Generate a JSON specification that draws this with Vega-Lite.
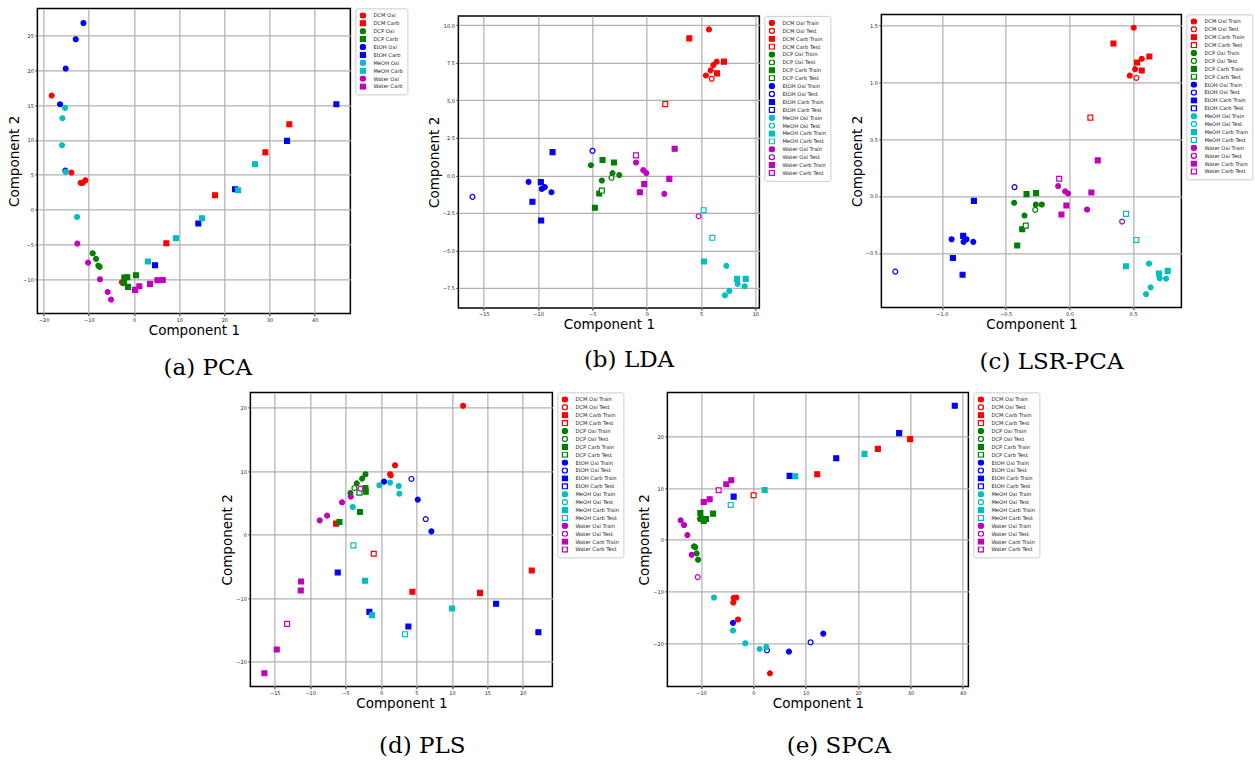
{
  "$schema": "https://vega.github.io/schema/vega-lite/v6.json",
  "background": "white",
  "padding": {"left": 7, "top": 7, "right": 0, "bottom": 0},
  "config": {
    "view": {"stroke": "black", "strokeWidth": 1.5},
    "axis": {"grid": true, "gridColor": "#b0b0b0", "gridWidth": 1.2, "domain": false, "ticks": true, "tickColor": "black", "tickSize": 2.5, "tickWidth": 0.8, "labelFont": "DejaVu Sans", "labelFontSize": 5, "labelColor": "#222222", "labelPadding": 1.5, "labelFlush": false, "labelOverlap": false, "titleFont": "DejaVu Sans", "titleFontSize": 13.5, "titleFontWeight": "normal", "titleColor": "black", "titlePadding": 1},
    "legend": {"labelFont": "DejaVu Sans", "labelFontSize": 5.2, "labelColor": "#222222", "symbolSize": 26, "symbolStrokeWidth": 1.3, "rowPadding": 0.9, "clipHeight": 6, "padding": 4, "strokeColor": "#cccccc", "cornerRadius": 2, "fillColor": "white", "offset": 5, "labelOffset": 7},
    "title": {"font": "DejaVu Serif", "fontSize": 23, "fontWeight": "normal", "color": "black", "orient": "bottom", "anchor": "middle", "frame": "bounds"}
  },
  "datasets": {
    "pca": [
      {"g":"DCM Oxi","x":-18.23,"y":16.38},{"g":"DCM Oxi","x":-13.87,"y":5.32},{"g":"DCM Oxi","x":-11.81,"y":3.84},{"g":"DCM Oxi","x":-11.37,"y":3.84},{"g":"DCM Oxi","x":-10.77,"y":4.22},{"g":"DCM Oxi","x":-2.66,"y":-10.43},
      {"g":"DCM Carb","x":7.16,"y":-4.83},{"g":"DCM Carb","x":17.93,"y":2.07},{"g":"DCM Carb","x":29.08,"y":8.24},{"g":"DCM Carb","x":34.39,"y":12.26},
      {"g":"DCP Oxi","x":-9.15,"y":-6.27},{"g":"DCP Oxi","x":-8.41,"y":-7.08},{"g":"DCP Oxi","x":-7.9,"y":-8.04},{"g":"DCP Oxi","x":-7.6,"y":-8.23},
      {"g":"DCP Carb","x":-2.14,"y":-9.76},{"g":"DCP Carb","x":-1.48,"y":-9.71},{"g":"DCP Carb","x":0.44,"y":-9.42},{"g":"DCP Carb","x":-2.21,"y":-10.53},{"g":"DCP Carb","x":-1.33,"y":-11.1},
      {"g":"EtOH Oxi","x":-11.2,"y":26.8},{"g":"EtOH Oxi","x":-12.9,"y":24.47},{"g":"EtOH Oxi","x":-15.13,"y":20.26},{"g":"EtOH Oxi","x":-16.38,"y":15.14},{"g":"EtOH Oxi","x":-15.2,"y":5.61},
      {"g":"EtOH Carb","x":4.65,"y":-7.99},{"g":"EtOH Carb","x":14.24,"y":-2.0},{"g":"EtOH Carb","x":22.36,"y":2.93},{"g":"EtOH Carb","x":33.87,"y":9.87},{"g":"EtOH Carb","x":44.8,"y":15.14},
      {"g":"MeOH Oxi","x":-15.28,"y":14.61},{"g":"MeOH Oxi","x":-15.87,"y":13.13},{"g":"MeOH Oxi","x":-15.94,"y":9.25},{"g":"MeOH Oxi","x":-15.13,"y":5.42},{"g":"MeOH Oxi","x":-12.62,"y":-1.05},
      {"g":"MeOH Carb","x":3.1,"y":-7.46},{"g":"MeOH Carb","x":9.3,"y":-4.11},{"g":"MeOH Carb","x":15.06,"y":-1.24},{"g":"MeOH Carb","x":23.03,"y":2.78},{"g":"MeOH Carb","x":26.79,"y":6.52},
      {"g":"Water Oxi","x":-12.55,"y":-4.88},{"g":"Water Oxi","x":-10.18,"y":-7.61},{"g":"Water Oxi","x":-7.53,"y":-10.0},{"g":"Water Oxi","x":-5.83,"y":-11.82},{"g":"Water Oxi","x":-5.09,"y":-12.92},
      {"g":"Water Carb","x":0.22,"y":-11.53},{"g":"Water Carb","x":1.18,"y":-11.0},{"g":"Water Carb","x":3.54,"y":-10.67},{"g":"Water Carb","x":5.17,"y":-10.14},{"g":"Water Carb","x":6.35,"y":-10.1}
    ],
    "lda": [
      {"g":"DCM Oxi Train","x":5.73,"y":9.73},{"g":"DCM Oxi Train","x":5.45,"y":6.66},{"g":"DCM Oxi Train","x":5.88,"y":7.0},{"g":"DCM Oxi Train","x":6.13,"y":7.35},{"g":"DCM Oxi Train","x":6.44,"y":7.58},
      {"g":"DCM Oxi Test","x":5.98,"y":6.44},
      {"g":"DCM Carb Train","x":3.92,"y":9.13},{"g":"DCM Carb Train","x":6.47,"y":6.8},{"g":"DCM Carb Train","x":7.11,"y":7.58},
      {"g":"DCM Carb Test","x":1.71,"y":4.75},
      {"g":"DCP Oxi Train","x":-5.14,"y":0.68},{"g":"DCP Oxi Train","x":-4.13,"y":-0.34},{"g":"DCP Oxi Train","x":-3.15,"y":0.15},{"g":"DCP Oxi Train","x":-2.53,"y":0.02},
      {"g":"DCP Oxi Test","x":-3.24,"y":-0.16},
      {"g":"DCP Carb Train","x":-4.07,"y":1.02},{"g":"DCP Carb Train","x":-3.02,"y":0.86},{"g":"DCP Carb Train","x":-4.37,"y":-1.21},{"g":"DCP Carb Train","x":-4.77,"y":-2.16},
      {"g":"DCP Carb Test","x":-4.13,"y":-1.01},
      {"g":"EtOH Oxi Train","x":-10.88,"y":-0.43},{"g":"EtOH Oxi Train","x":-9.66,"y":-0.9},{"g":"EtOH Oxi Train","x":-9.38,"y":-0.78},{"g":"EtOH Oxi Train","x":-8.77,"y":-1.12},
      {"g":"EtOH Oxi Test","x":-16.04,"y":-1.43},{"g":"EtOH Oxi Test","x":-4.99,"y":1.64},
      {"g":"EtOH Carb Train","x":-8.67,"y":1.55},{"g":"EtOH Carb Train","x":-9.75,"y":-0.45},{"g":"EtOH Carb Train","x":-10.52,"y":-1.76},{"g":"EtOH Carb Train","x":-9.72,"y":-3.01},
      {"g":"MeOH Oxi Train","x":7.33,"y":-6.03},{"g":"MeOH Oxi Train","x":8.37,"y":-7.23},{"g":"MeOH Oxi Train","x":7.6,"y":-7.7},{"g":"MeOH Oxi Train","x":7.2,"y":-7.99},{"g":"MeOH Oxi Train","x":9.02,"y":-7.39},
      {"g":"MeOH Carb Train","x":5.27,"y":-5.74},{"g":"MeOH Carb Train","x":8.31,"y":-6.9},{"g":"MeOH Carb Train","x":9.11,"y":-6.9},
      {"g":"MeOH Carb Test","x":5.24,"y":-2.32},{"g":"MeOH Carb Test","x":6.04,"y":-4.16},
      {"g":"Water Oxi Train","x":-0.99,"y":0.86},{"g":"Water Oxi Train","x":-0.32,"y":0.35},{"g":"Water Oxi Train","x":-0.04,"y":0.15},{"g":"Water Oxi Train","x":1.62,"y":-1.23},
      {"g":"Water Oxi Test","x":4.78,"y":-2.72},
      {"g":"Water Carb Train","x":2.57,"y":1.77},{"g":"Water Carb Train","x":2.08,"y":-0.23},{"g":"Water Carb Train","x":-0.23,"y":-0.58},{"g":"Water Carb Train","x":-0.63,"y":-1.12},
      {"g":"Water Carb Test","x":-0.99,"y":1.33}
    ],
    "lsr": [
      {"g":"DCM Oxi Train","x":0.505,"y":1.477},{"g":"DCM Oxi Train","x":0.474,"y":1.057},{"g":"DCM Oxi Train","x":0.516,"y":1.113},{"g":"DCM Oxi Train","x":0.568,"y":1.204},
      {"g":"DCM Oxi Test","x":0.526,"y":1.037},
      {"g":"DCM Carb Train","x":0.346,"y":1.339},{"g":"DCM Carb Train","x":0.531,"y":1.172},{"g":"DCM Carb Train","x":0.568,"y":1.101},{"g":"DCM Carb Train","x":0.628,"y":1.224},
      {"g":"DCM Carb Test","x":0.165,"y":0.688},
      {"g":"DCP Oxi Train","x":-0.433,"y":-0.06},{"g":"DCP Oxi Train","x":-0.352,"y":-0.172},{"g":"DCP Oxi Train","x":-0.263,"y":-0.075},{"g":"DCP Oxi Train","x":-0.216,"y":-0.075},
      {"g":"DCP Oxi Test","x":-0.268,"y":-0.122},
      {"g":"DCP Carb Train","x":-0.336,"y":0.016},{"g":"DCP Carb Train","x":-0.261,"y":0.025},{"g":"DCP Carb Train","x":-0.37,"y":-0.292},{"g":"DCP Carb Train","x":-0.409,"y":-0.435},
      {"g":"DCP Carb Test","x":-0.342,"y":-0.26},
      {"g":"EtOH Oxi Train","x":-0.924,"y":-0.38},{"g":"EtOH Oxi Train","x":-0.83,"y":-0.403},{"g":"EtOH Oxi Train","x":-0.807,"y":-0.38},{"g":"EtOH Oxi Train","x":-0.754,"y":-0.403},
      {"g":"EtOH Oxi Test","x":-1.366,"y":-0.664},{"g":"EtOH Oxi Test","x":-0.43,"y":0.078},
      {"g":"EtOH Carb Train","x":-0.749,"y":-0.043},{"g":"EtOH Carb Train","x":-0.833,"y":-0.35},{"g":"EtOH Carb Train","x":-0.914,"y":-0.544},{"g":"EtOH Carb Train","x":-0.838,"y":-0.691},
      {"g":"MeOH Oxi Train","x":0.625,"y":-0.594},{"g":"MeOH Oxi Train","x":0.709,"y":-0.723},{"g":"MeOH Oxi Train","x":0.638,"y":-0.802},{"g":"MeOH Oxi Train","x":0.602,"y":-0.861},{"g":"MeOH Oxi Train","x":0.759,"y":-0.726},
      {"g":"MeOH Carb Train","x":0.445,"y":-0.617},{"g":"MeOH Carb Train","x":0.704,"y":-0.682},{"g":"MeOH Carb Train","x":0.772,"y":-0.658},
      {"g":"MeOH Carb Test","x":0.445,"y":-0.157},{"g":"MeOH Carb Test","x":0.526,"y":-0.386},
      {"g":"Water Oxi Train","x":-0.088,"y":0.087},{"g":"Water Oxi Train","x":-0.033,"y":0.04},{"g":"Water Oxi Train","x":-0.01,"y":0.022},{"g":"Water Oxi Train","x":0.139,"y":-0.119},
      {"g":"Water Oxi Test","x":0.414,"y":-0.224},
      {"g":"Water Carb Train","x":0.223,"y":0.312},{"g":"Water Carb Train","x":0.173,"y":0.031},{"g":"Water Carb Train","x":-0.023,"y":-0.084},{"g":"Water Carb Train","x":-0.062,"y":-0.163},
      {"g":"Water Carb Test","x":-0.08,"y":0.151}
    ],
    "pls": [
      {"g":"DCM Oxi Train","x":11.58,"y":20.32},{"g":"DCM Oxi Train","x":1.98,"y":10.95},{"g":"DCM Oxi Train","x":1.28,"y":9.53},{"g":"DCM Oxi Train","x":1.37,"y":9.37},
      {"g":"DCM Carb Train","x":-6.34,"y":1.74},{"g":"DCM Carb Train","x":4.43,"y":-9.0},{"g":"DCM Carb Train","x":13.98,"y":-9.16},{"g":"DCM Carb Train","x":21.27,"y":-5.63},
      {"g":"DCM Carb Test","x":-1.03,"y":-3.0},
      {"g":"DCP Oxi Train","x":-4.32,"y":6.58},{"g":"DCP Oxi Train","x":-3.43,"y":8.1},{"g":"DCP Oxi Train","x":-2.67,"y":8.84},{"g":"DCP Oxi Train","x":-2.2,"y":9.53},
      {"g":"DCP Oxi Test","x":-3.76,"y":7.37},
      {"g":"DCP Carb Train","x":-5.87,"y":2.0},{"g":"DCP Carb Train","x":-2.96,"y":3.58},{"g":"DCP Carb Train","x":-2.2,"y":7.37},{"g":"DCP Carb Train","x":-2.16,"y":6.79},
      {"g":"DCP Carb Test","x":-3.05,"y":6.63},
      {"g":"EtOH Oxi Train","x":0.43,"y":8.37},{"g":"EtOH Oxi Train","x":5.18,"y":5.53},{"g":"EtOH Oxi Train","x":7.11,"y":0.53},
      {"g":"EtOH Oxi Test","x":4.29,"y":8.79},{"g":"EtOH Oxi Test","x":6.31,"y":2.47},
      {"g":"EtOH Carb Train","x":-6.11,"y":-5.95},{"g":"EtOH Carb Train","x":-1.64,"y":-12.16},{"g":"EtOH Carb Train","x":3.86,"y":-14.47},{"g":"EtOH Carb Train","x":16.24,"y":-10.89},{"g":"EtOH Carb Train","x":22.21,"y":-15.37},
      {"g":"MeOH Oxi Train","x":-3.99,"y":4.37},{"g":"MeOH Oxi Train","x":-0.23,"y":7.79},{"g":"MeOH Oxi Train","x":1.28,"y":8.21},{"g":"MeOH Oxi Train","x":2.5,"y":7.68},{"g":"MeOH Oxi Train","x":2.59,"y":6.47},
      {"g":"MeOH Carb Train","x":-2.25,"y":-7.26},{"g":"MeOH Carb Train","x":-1.26,"y":-12.68},{"g":"MeOH Carb Train","x":10.03,"y":-11.63},
      {"g":"MeOH Carb Test","x":-3.9,"y":-1.68},{"g":"MeOH Carb Test","x":3.39,"y":-15.68},
      {"g":"Water Oxi Train","x":-8.65,"y":2.26},{"g":"Water Oxi Train","x":-7.61,"y":3.0},{"g":"Water Oxi Train","x":-5.5,"y":5.11},{"g":"Water Oxi Train","x":-4.27,"y":6.0},
      {"g":"Water Oxi Test","x":-2.91,"y":7.26},
      {"g":"Water Carb Train","x":-11.28,"y":-7.37},{"g":"Water Carb Train","x":-11.33,"y":-8.79},{"g":"Water Carb Train","x":-14.72,"y":-18.1},{"g":"Water Carb Train","x":-16.46,"y":-21.84},
      {"g":"Water Carb Test","x":-13.26,"y":-14.05}
    ],
    "spca": [
      {"g":"DCM Oxi Train","x":-10.19,"y":4.03},{"g":"DCM Oxi Train","x":-3.77,"y":-11.18},{"g":"DCM Oxi Train","x":-3.26,"y":-11.11},{"g":"DCM Oxi Train","x":-3.83,"y":-12.08},{"g":"DCM Oxi Train","x":-2.94,"y":-15.36},{"g":"DCM Oxi Train","x":3.17,"y":-25.73},
      {"g":"DCM Carb Train","x":12.2,"y":12.66},{"g":"DCM Carb Train","x":23.78,"y":17.55},{"g":"DCM Carb Train","x":29.95,"y":19.42},
      {"g":"DCM Carb Test","x":0.05,"y":8.6},
      {"g":"DCP Oxi Train","x":-11.34,"y":-1.26},{"g":"DCP Oxi Train","x":-11.1,"y":-1.4},{"g":"DCP Oxi Train","x":-10.83,"y":-2.61},{"g":"DCP Oxi Train","x":-10.57,"y":-3.83},
      {"g":"DCP Carb Train","x":-10.13,"y":5.19},{"g":"DCP Carb Train","x":-10.0,"y":4.09},{"g":"DCP Carb Train","x":-9.05,"y":4.03},{"g":"DCP Carb Train","x":-7.71,"y":5.06},{"g":"DCP Carb Train","x":-9.49,"y":3.64},
      {"g":"EtOH Oxi Train","x":-3.89,"y":-16.0},{"g":"EtOH Oxi Train","x":6.79,"y":-21.55},{"g":"EtOH Oxi Train","x":13.35,"y":-18.07},
      {"g":"EtOH Oxi Test","x":2.6,"y":-21.29},{"g":"EtOH Oxi Test","x":10.93,"y":-19.74},
      {"g":"EtOH Carb Train","x":-3.77,"y":8.34},{"g":"EtOH Carb Train","x":6.92,"y":12.33},{"g":"EtOH Carb Train","x":15.83,"y":15.75},{"g":"EtOH Carb Train","x":27.85,"y":20.58},{"g":"EtOH Carb Train","x":38.47,"y":25.86},
      {"g":"MeOH Oxi Train","x":-7.52,"y":-11.11},{"g":"MeOH Oxi Train","x":-3.89,"y":-17.49},{"g":"MeOH Oxi Train","x":-1.54,"y":-19.94},{"g":"MeOH Oxi Train","x":1.2,"y":-21.03},{"g":"MeOH Oxi Train","x":2.47,"y":-20.64},
      {"g":"MeOH Carb Train","x":8.0,"y":12.27},{"g":"MeOH Carb Train","x":21.23,"y":16.59},{"g":"MeOH Carb Train","x":2.15,"y":9.63},
      {"g":"MeOH Carb Test","x":-4.34,"y":6.73},
      {"g":"Water Oxi Train","x":-13.88,"y":3.77},{"g":"Water Oxi Train","x":-13.24,"y":2.87},{"g":"Water Oxi Train","x":-12.61,"y":0.93},{"g":"Water Oxi Train","x":-11.78,"y":-2.87},
      {"g":"Water Oxi Test","x":-10.64,"y":-7.18},
      {"g":"Water Carb Train","x":-9.49,"y":7.31},{"g":"Water Carb Train","x":-8.35,"y":7.83},{"g":"Water Carb Train","x":-5.17,"y":10.72},{"g":"Water Carb Train","x":-4.21,"y":11.5},
      {"g":"Water Carb Test","x":-6.63,"y":9.57}
    ]
  },
  "center": true,
  "spacing": 10,
  "resolve": {"scale": {"fill": "independent", "stroke": "independent", "shape": "independent"}},
  "vconcat": [
    {
      "center": true,
      "spacing": 17,
      "resolve": {"scale": {"fill": "independent", "stroke": "independent", "shape": "independent"}},
      "hconcat": [
        {
          "width": 313, "height": 305,
          "data": {"name": "pca"},
          "title": {"text": "(a) PCA", "offset": 20},
          "mark": {"type": "point", "filled": true, "size": 24, "strokeWidth": 1.2, "opacity": 1},
          "encoding": {
            "x": {"field": "x", "type": "quantitative", "scale": {"domain": [-21.4, 47.9], "nice": false, "zero": false}, "axis": {"values": [-20, -10, 0, 10, 20, 30, 40], "title": "Component 1"}},
            "y": {"field": "y", "type": "quantitative", "scale": {"domain": [-14.9, 28.9], "nice": false, "zero": false}, "axis": {"values": [-10, -5, 0, 5, 10, 15, 20, 25], "title": "Component 2"}},
            "fill": {"field": "g", "type": "nominal", "scale": {"domain": ["DCM Oxi","DCM Carb","DCP Oxi","DCP Carb","EtOH Oxi","EtOH Carb","MeOH Oxi","MeOH Carb","Water Oxi","Water Carb"], "range": ["#ff0000","#ff0000","#008000","#008000","#0000ff","#0000ff","#00bfbf","#00bfbf","#bf00bf","#bf00bf"]}, "legend": {"title": null}},
            "stroke": {"field": "g", "type": "nominal", "scale": {"domain": ["DCM Oxi","DCM Carb","DCP Oxi","DCP Carb","EtOH Oxi","EtOH Carb","MeOH Oxi","MeOH Carb","Water Oxi","Water Carb"], "range": ["#ff0000","#ff0000","#008000","#008000","#0000ff","#0000ff","#00bfbf","#00bfbf","#bf00bf","#bf00bf"]}, "legend": {"title": null}},
            "shape": {"field": "g", "type": "nominal", "scale": {"domain": ["DCM Oxi","DCM Carb","DCP Oxi","DCP Carb","EtOH Oxi","EtOH Carb","MeOH Oxi","MeOH Carb","Water Oxi","Water Carb"], "range": ["circle","square","circle","square","circle","square","circle","square","circle","square"]}, "legend": {"title": null}}
          }
        },
        {
          "width": 301, "height": 292,
          "data": {"name": "lda"},
          "title": {"text": "(b) LDA", "offset": 18},
          "mark": {"type": "point", "filled": true, "size": 24, "strokeWidth": 1.2, "opacity": 1},
          "encoding": {
            "x": {"field": "x", "type": "quantitative", "scale": {"domain": [-17.34, 10.37], "nice": false, "zero": false}, "axis": {"values": [-15, -10, -5, 0, 5, 10], "title": "Component 1"}},
            "y": {"field": "y", "type": "quantitative", "scale": {"domain": [-8.83, 10.63], "nice": false, "zero": false}, "axis": {"values": [-7.5, -5, -2.5, 0, 2.5, 5, 7.5, 10], "format": ".1f", "title": "Component 2"}},
            "fill": {"field": "g", "type": "nominal", "scale": {"domain": ["DCM Oxi Train","DCM Oxi Test","DCM Carb Train","DCM Carb Test","DCP Oxi Train","DCP Oxi Test","DCP Carb Train","DCP Carb Test","EtOH Oxi Train","EtOH Oxi Test","EtOH Carb Train","EtOH Carb Test","MeOH Oxi Train","MeOH Oxi Test","MeOH Carb Train","MeOH Carb Test","Water Oxi Train","Water Oxi Test","Water Carb Train","Water Carb Test"], "range": ["#ff0000","white","#ff0000","white","#008000","white","#008000","white","#0000ff","white","#0000ff","white","#00bfbf","white","#00bfbf","white","#bf00bf","white","#bf00bf","white"]}, "legend": {"title": null}},
            "stroke": {"field": "g", "type": "nominal", "scale": {"domain": ["DCM Oxi Train","DCM Oxi Test","DCM Carb Train","DCM Carb Test","DCP Oxi Train","DCP Oxi Test","DCP Carb Train","DCP Carb Test","EtOH Oxi Train","EtOH Oxi Test","EtOH Carb Train","EtOH Carb Test","MeOH Oxi Train","MeOH Oxi Test","MeOH Carb Train","MeOH Carb Test","Water Oxi Train","Water Oxi Test","Water Carb Train","Water Carb Test"], "range": ["#ff0000","#ff0000","#ff0000","#ff0000","#008000","#008000","#008000","#008000","#0000ff","#0000ff","#0000ff","#0000ff","#00bfbf","#00bfbf","#00bfbf","#00bfbf","#bf00bf","#bf00bf","#bf00bf","#bf00bf"]}, "legend": {"title": null}},
            "shape": {"field": "g", "type": "nominal", "scale": {"domain": ["DCM Oxi Train","DCM Oxi Test","DCM Carb Train","DCM Carb Test","DCP Oxi Train","DCP Oxi Test","DCP Carb Train","DCP Carb Test","EtOH Oxi Train","EtOH Oxi Test","EtOH Carb Train","EtOH Carb Test","MeOH Oxi Train","MeOH Oxi Test","MeOH Carb Train","MeOH Carb Test","Water Oxi Train","Water Oxi Test","Water Carb Train","Water Carb Test"], "range": ["circle","circle","square","square","circle","circle","square","square","circle","circle","square","square","circle","circle","square","square","circle","circle","square","square"]}, "legend": {"title": null}}
          }
        },
        {
          "width": 300, "height": 293,
          "data": {"name": "lsr"},
          "title": {"text": "(c) LSR-PCA", "offset": 20},
          "mark": {"type": "point", "filled": true, "size": 24, "strokeWidth": 1.2, "opacity": 1},
          "encoding": {
            "x": {"field": "x", "type": "quantitative", "scale": {"domain": [-1.475, 0.879], "nice": false, "zero": false}, "axis": {"values": [-1, -0.5, 0, 0.5], "format": ".1f", "title": "Component 1"}},
            "y": {"field": "y", "type": "quantitative", "scale": {"domain": [-0.978, 1.594], "nice": false, "zero": false}, "axis": {"values": [-0.5, 0, 0.5, 1, 1.5], "format": ".1f", "title": "Component 2"}},
            "fill": {"field": "g", "type": "nominal", "scale": {"domain": ["DCM Oxi Train","DCM Oxi Test","DCM Carb Train","DCM Carb Test","DCP Oxi Train","DCP Oxi Test","DCP Carb Train","DCP Carb Test","EtOH Oxi Train","EtOH Oxi Test","EtOH Carb Train","EtOH Carb Test","MeOH Oxi Train","MeOH Oxi Test","MeOH Carb Train","MeOH Carb Test","Water Oxi Train","Water Oxi Test","Water Carb Train","Water Carb Test"], "range": ["#ff0000","white","#ff0000","white","#008000","white","#008000","white","#0000ff","white","#0000ff","white","#00bfbf","white","#00bfbf","white","#bf00bf","white","#bf00bf","white"]}, "legend": {"title": null}},
            "stroke": {"field": "g", "type": "nominal", "scale": {"domain": ["DCM Oxi Train","DCM Oxi Test","DCM Carb Train","DCM Carb Test","DCP Oxi Train","DCP Oxi Test","DCP Carb Train","DCP Carb Test","EtOH Oxi Train","EtOH Oxi Test","EtOH Carb Train","EtOH Carb Test","MeOH Oxi Train","MeOH Oxi Test","MeOH Carb Train","MeOH Carb Test","Water Oxi Train","Water Oxi Test","Water Carb Train","Water Carb Test"], "range": ["#ff0000","#ff0000","#ff0000","#ff0000","#008000","#008000","#008000","#008000","#0000ff","#0000ff","#0000ff","#0000ff","#00bfbf","#00bfbf","#00bfbf","#00bfbf","#bf00bf","#bf00bf","#bf00bf","#bf00bf"]}, "legend": {"title": null}},
            "shape": {"field": "g", "type": "nominal", "scale": {"domain": ["DCM Oxi Train","DCM Oxi Test","DCM Carb Train","DCM Carb Test","DCP Oxi Train","DCP Oxi Test","DCP Carb Train","DCP Carb Test","EtOH Oxi Train","EtOH Oxi Test","EtOH Carb Train","EtOH Carb Test","MeOH Oxi Train","MeOH Oxi Test","MeOH Carb Train","MeOH Carb Test","Water Oxi Train","Water Oxi Test","Water Carb Train","Water Carb Test"], "range": ["circle","circle","square","square","circle","circle","square","square","circle","circle","square","square","circle","circle","square","square","circle","circle","square","square"]}, "legend": {"title": null}}
          }
        }
      ]
    },
    {
      "center": true,
      "spacing": 11,
      "resolve": {"scale": {"fill": "independent", "stroke": "independent", "shape": "independent"}},
      "hconcat": [
        {
          "width": 302, "height": 294,
          "data": {"name": "pls"},
          "title": {"text": "(d) PLS", "offset": 25},
          "mark": {"type": "point", "filled": true, "size": 24, "strokeWidth": 1.2, "opacity": 1},
          "encoding": {
            "x": {"field": "x", "type": "quantitative", "scale": {"domain": [-18.44, 24.18], "nice": false, "zero": false}, "axis": {"values": [-15, -10, -5, 0, 5, 10, 15, 20], "title": "Component 1"}},
            "y": {"field": "y", "type": "quantitative", "scale": {"domain": [-23.9, 22.43], "nice": false, "zero": false}, "axis": {"values": [-20, -10, 0, 10, 20], "title": "Component 2"}},
            "fill": {"field": "g", "type": "nominal", "scale": {"domain": ["DCM Oxi Train","DCM Oxi Test","DCM Carb Train","DCM Carb Test","DCP Oxi Train","DCP Oxi Test","DCP Carb Train","DCP Carb Test","EtOH Oxi Train","EtOH Oxi Test","EtOH Carb Train","EtOH Carb Test","MeOH Oxi Train","MeOH Oxi Test","MeOH Carb Train","MeOH Carb Test","Water Oxi Train","Water Oxi Test","Water Carb Train","Water Carb Test"], "range": ["#ff0000","white","#ff0000","white","#008000","white","#008000","white","#0000ff","white","#0000ff","white","#00bfbf","white","#00bfbf","white","#bf00bf","white","#bf00bf","white"]}, "legend": {"title": null}},
            "stroke": {"field": "g", "type": "nominal", "scale": {"domain": ["DCM Oxi Train","DCM Oxi Test","DCM Carb Train","DCM Carb Test","DCP Oxi Train","DCP Oxi Test","DCP Carb Train","DCP Carb Test","EtOH Oxi Train","EtOH Oxi Test","EtOH Carb Train","EtOH Carb Test","MeOH Oxi Train","MeOH Oxi Test","MeOH Carb Train","MeOH Carb Test","Water Oxi Train","Water Oxi Test","Water Carb Train","Water Carb Test"], "range": ["#ff0000","#ff0000","#ff0000","#ff0000","#008000","#008000","#008000","#008000","#0000ff","#0000ff","#0000ff","#0000ff","#00bfbf","#00bfbf","#00bfbf","#00bfbf","#bf00bf","#bf00bf","#bf00bf","#bf00bf"]}, "legend": {"title": null}},
            "shape": {"field": "g", "type": "nominal", "scale": {"domain": ["DCM Oxi Train","DCM Oxi Test","DCM Carb Train","DCM Carb Test","DCP Oxi Train","DCP Oxi Test","DCP Carb Train","DCP Carb Test","EtOH Oxi Train","EtOH Oxi Test","EtOH Carb Train","EtOH Carb Test","MeOH Oxi Train","MeOH Oxi Test","MeOH Carb Train","MeOH Carb Test","Water Oxi Train","Water Oxi Test","Water Carb Train","Water Carb Test"], "range": ["circle","circle","square","square","circle","circle","square","square","circle","circle","square","square","circle","circle","square","square","circle","circle","square","square"]}, "legend": {"title": null}}
          }
        },
        {
          "width": 301, "height": 294,
          "data": {"name": "spca"},
          "title": {"text": "(e) SPCA", "offset": 25},
          "mark": {"type": "point", "filled": true, "size": 24, "strokeWidth": 1.2, "opacity": 1},
          "encoding": {
            "x": {"field": "x", "type": "quantitative", "scale": {"domain": [-16.43, 41.07], "nice": false, "zero": false}, "axis": {"values": [-10, 0, 10, 20, 30, 40], "title": "Component 1"}},
            "y": {"field": "y", "type": "quantitative", "scale": {"domain": [-28.25, 28.44], "nice": false, "zero": false}, "axis": {"values": [-20, -10, 0, 10, 20], "title": "Component 2"}},
            "fill": {"field": "g", "type": "nominal", "scale": {"domain": ["DCM Oxi Train","DCM Oxi Test","DCM Carb Train","DCM Carb Test","DCP Oxi Train","DCP Oxi Test","DCP Carb Train","DCP Carb Test","EtOH Oxi Train","EtOH Oxi Test","EtOH Carb Train","EtOH Carb Test","MeOH Oxi Train","MeOH Oxi Test","MeOH Carb Train","MeOH Carb Test","Water Oxi Train","Water Oxi Test","Water Carb Train","Water Carb Test"], "range": ["#ff0000","white","#ff0000","white","#008000","white","#008000","white","#0000ff","white","#0000ff","white","#00bfbf","white","#00bfbf","white","#bf00bf","white","#bf00bf","white"]}, "legend": {"title": null}},
            "stroke": {"field": "g", "type": "nominal", "scale": {"domain": ["DCM Oxi Train","DCM Oxi Test","DCM Carb Train","DCM Carb Test","DCP Oxi Train","DCP Oxi Test","DCP Carb Train","DCP Carb Test","EtOH Oxi Train","EtOH Oxi Test","EtOH Carb Train","EtOH Carb Test","MeOH Oxi Train","MeOH Oxi Test","MeOH Carb Train","MeOH Carb Test","Water Oxi Train","Water Oxi Test","Water Carb Train","Water Carb Test"], "range": ["#ff0000","#ff0000","#ff0000","#ff0000","#008000","#008000","#008000","#008000","#0000ff","#0000ff","#0000ff","#0000ff","#00bfbf","#00bfbf","#00bfbf","#00bfbf","#bf00bf","#bf00bf","#bf00bf","#bf00bf"]}, "legend": {"title": null}},
            "shape": {"field": "g", "type": "nominal", "scale": {"domain": ["DCM Oxi Train","DCM Oxi Test","DCM Carb Train","DCM Carb Test","DCP Oxi Train","DCP Oxi Test","DCP Carb Train","DCP Carb Test","EtOH Oxi Train","EtOH Oxi Test","EtOH Carb Train","EtOH Carb Test","MeOH Oxi Train","MeOH Oxi Test","MeOH Carb Train","MeOH Carb Test","Water Oxi Train","Water Oxi Test","Water Carb Train","Water Carb Test"], "range": ["circle","circle","square","square","circle","circle","square","square","circle","circle","square","square","circle","circle","square","square","circle","circle","square","square"]}, "legend": {"title": null}}
          }
        }
      ]
    }
  ]
}
